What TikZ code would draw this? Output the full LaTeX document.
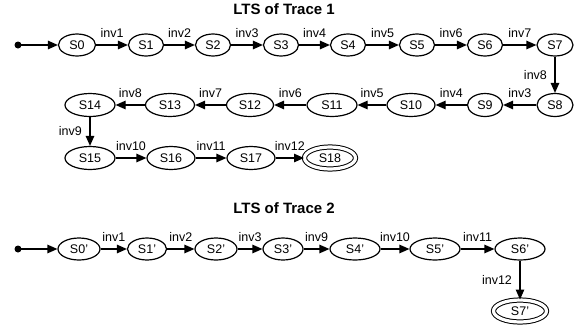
\documentclass[tikz,border=0pt]{standalone}
\usepackage{fontspec}
\setmainfont{Liberation Sans}
\usetikzlibrary{arrows.meta,shapes.geometric}
\tikzset{
    every node/.style={font=\fontsize{12.5}{14}\selectfont}
}
\tikzset{
    state/.style={ellipse, draw, line width=1.2pt, inner sep=1pt,
    	minimum width=35pt, minimum height=22pt}
}
\tikzset{
    accept/.style={state, double, double distance=3.2pt, line width=1pt,
    	minimum width=51pt, minimum height=22pt}
}
\tikzset{
    every edge/.append style={line width=1.2pt, -{Triangle[length=10pt,width=8.5pt]}}
}
\tikzset{
    lbl/.style={inner sep=1.5pt}
}
\tikzset{
    title/.style={font=\fontsize{15}{18}\selectfont\bfseries}
}

\begin{document}
\begin{tikzpicture}[x=1pt,y=-1pt]
	\useasboundingbox (0,0) rectangle (580,327);
	\node [title] (t1) at (284,9) {LTS of Trace 1};
	\node [title] (t2) at (284,208) {LTS of Trace 2};
	\fill (18,45) circle (3.5pt) coordinate (i1);
	\node [state, minimum width=37pt] (s0) at (77,45) {S0};
	\node [state] (s1) at (146,45) {S1};
	\node [state] (s2) at (213,45) {S2};
	\node [state] (s3) at (281,45) {S3};
	\node [state] (s4) at (348,45) {S4};
	\node [state] (s5) at (417,45) {S5};
	\node [state] (s6) at (485,45) {S6};
	\node [state, minimum width=36pt] (s7) at (555,45) {S7};
	\node [state, minimum width=36pt, minimum height=23pt] (s8) at (555,105) {S8};
	\node [state, minimum height=23pt] (s9) at (485,105) {S9};
	\node [state, minimum width=48pt, minimum height=23pt] (s10) at (411,105) {S10};
	\node [state, minimum width=50pt, minimum height=23pt] (s11) at (332,105) {S11};
	\node [state, minimum width=47pt, minimum height=23pt] (s12) at (250,105) {S12};
	\node [state, minimum width=49pt, minimum height=23pt] (s13) at (170,105) {S13};
	\node [state, minimum width=50pt, minimum height=23pt] (s14) at (90,105) {S14};
	\node [state, minimum width=50pt, minimum height=23pt] (s15) at (90,158) {S15};
	\node [state, minimum width=48pt, minimum height=23pt] (s16) at (171,158) {S16};
	\node [state, minimum width=48pt, minimum height=23pt] (s17) at (251,158) {S17};
	\node [accept] (s18) at (330,158) {S18};
	\draw (i1) edge (s0);
	\draw (s0) edge node [lbl, above=5pt] {inv1} (s1);
	\draw (s1) edge node [lbl, above=5pt] {inv2} (s2);
	\draw (s2) edge node [lbl, above=5pt] {inv3} (s3);
	\draw (s3) edge node [lbl, above=5pt] {inv4} (s4);
	\draw (s4) edge node [lbl, above=5pt] {inv5} (s5);
	\draw (s5) edge node [lbl, above=5pt] {inv6} (s6);
	\draw (s6) edge node [lbl, above=5pt] {inv7} (s7);
	\draw (s7) edge node [lbl, left=6pt] {inv8} (s8);
	\draw (s8) edge node [lbl, above=5pt] {inv3} (s9);
	\draw (s9) edge node [lbl, above=5pt] {inv4} (s10);
	\draw (s10) edge node [lbl, above=5pt] {inv5} (s11);
	\draw (s11) edge node [lbl, above=5pt] {inv6} (s12);
	\draw (s12) edge node [lbl, above=5pt] {inv7} (s13);
	\draw (s13) edge node [lbl, above=5pt] {inv8} (s14);
	\draw (s14) edge node [lbl, left=6pt] {inv9} (s15);
	\draw (s15) edge node [lbl, above=5pt] {inv10} (s16);
	\draw (s16) edge node [lbl, above=5pt] {inv11} (s17);
	\draw (s17) edge node [lbl, above=5pt] {inv12} (s18);
	\fill (18,249) circle (3.5pt) coordinate (i2);
	\node [state, minimum width=42pt] (p0) at (79,249) {S0'};
	\node [state, minimum width=39pt] (p1) at (147,249) {S1'};
	\node [state, minimum width=42pt] (p2) at (216,249) {S2'};
	\node [state, minimum width=40pt] (p3) at (283,249) {S3'};
	\node [state, minimum width=50pt] (p4) at (355,249) {S4'};
	\node [state, minimum width=50pt] (p5) at (435,249) {S5'};
	\node [state, minimum width=50pt] (p6) at (520,249) {S6'};
	\node [accept, minimum width=53pt] (p7) at (520,311) {S7'};
	\draw (i2) edge (p0);
	\draw (p0) edge node [lbl, above=5pt] {inv1} (p1);
	\draw (p1) edge node [lbl, above=5pt] {inv2} (p2);
	\draw (p2) edge node [lbl, above=5pt] {inv3} (p3);
	\draw (p3) edge node [lbl, above=5pt] {inv9} (p4);
	\draw (p4) edge node [lbl, above=5pt] {inv10} (p5);
	\draw (p5) edge node [lbl, above=5pt] {inv11} (p6);
	\draw (p6) edge node [lbl, left=6pt] {inv12} (p7);
\end{tikzpicture}
\end{document}
